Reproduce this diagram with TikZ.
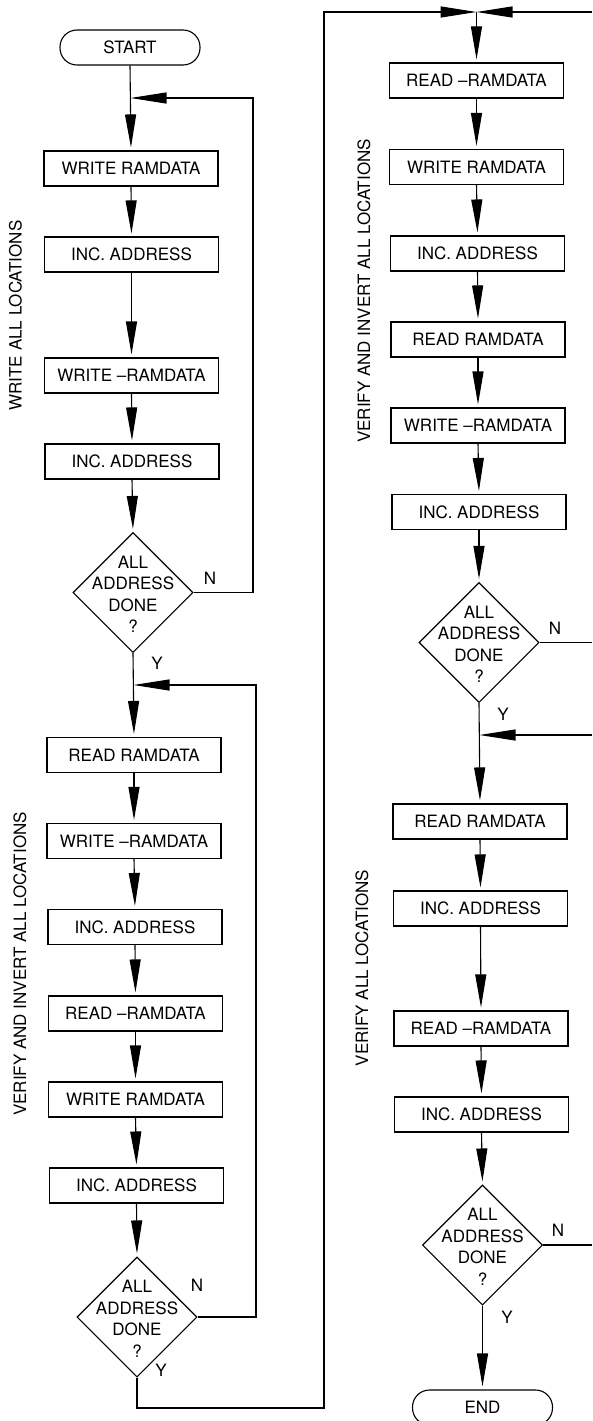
\documentclass[tikz,border=0pt]{standalone}
\usepackage{fontspec}
\setmainfont{TeX Gyre Heros}
\usetikzlibrary{arrows.meta,shapes.geometric}

\begin{document}
\begin{tikzpicture}[
  x=1pt, y=-1pt,
  line width=1.1pt,
  font=\fontsize{17}{21.5}\selectfont,
  proc/.style={draw, rectangle, minimum width=174pt, minimum height=35pt, inner sep=0pt},
  term/.style={draw, rectangle, rounded corners=17pt, minimum width=140pt, minimum height=35pt, inner sep=0pt},
  dec/.style={draw, diamond, minimum width=120pt, minimum height=120pt, inner sep=0pt},
  dtext/.style={align=center, inner sep=0pt, yshift=-2pt},
  flow/.style={-{Triangle[length=33pt,width=11pt]}, shorten >=3pt},
  joinarrow/.style={-{Triangle[length=36pt,width=11pt]}},
  side/.style={rotate=90, inner sep=0pt},
  lab/.style={inner sep=0pt}
]
\useasboundingbox (0,0) rectangle (592,1421);

% ---------- left column: write, then verify and invert ----------
\node[term] (start) at (130,47.5) {START};
\node[proc] (w1)  at (131,168.5)  {WRITE RAMDATA};
\node[proc] (i1)  at (131.5,254.5) {INC. ADDRESS};
\node[proc] (wn0) at (131.5,375.5) {WRITE –RAMDATA};
\node[proc] (i2)  at (132,461.5)  {INC. ADDRESS};
\node[dec]  (d1)  at (133,592.5)  {};
\node[dtext] (d1t) at (d1) {ALL\\ADDRESS\\DONE\\?};

\node[proc] (rr1) at (134,755)    {READ RAMDATA};
\node[proc] (wn1) at (134,841)    {WRITE –RAMDATA};
\node[proc] (i3)  at (135,927)    {INC. ADDRESS};
\node[proc] (rn1) at (135.5,1013.5) {READ –RAMDATA};
\node[proc] (w3)  at (135.5,1099.5) {WRITE RAMDATA};
\node[proc] (i4)  at (136.5,1185.5) {INC. ADDRESS};
\node[dec]  (d2)  at (137,1317)   {};
\node[dtext] (d2t) at (d2) {ALL\\ADDRESS\\DONE\\?};

% ---------- right column: verify and invert, then verify ----------
\node[proc] (rn2) at (476.5,80.5)  {READ –RAMDATA};
\node[proc] (w4)  at (476.5,167)   {WRITE RAMDATA};
\node[proc] (i5)  at (477.5,253.5) {INC. ADDRESS};
\node[proc] (rr2) at (478,339.5)   {READ RAMDATA};
\node[proc] (wn2) at (478,425.5)   {WRITE –RAMDATA};
\node[proc] (i6)  at (479,512)     {INC. ADDRESS};
\node[dec]  (d3)  at (479,642.5)   {};
\node[dtext] (d3t) at (d3) {ALL\\ADDRESS\\DONE\\?};

\node[proc] (rr3) at (480,821.5)   {READ RAMDATA};
\node[proc] (i7)  at (480.5,908.5) {INC. ADDRESS};
\node[proc] (rn3) at (481,1028.5)  {READ –RAMDATA};
\node[proc] (i8)  at (481.5,1114.5) {INC. ADDRESS};
\node[dec]  (d4)  at (482.5,1245)  {};
\node[dtext] (d4t) at (d4) {ALL\\ADDRESS\\DONE\\?};
\node[term] (end) at (482.5,1407.5) {END};

% ---------- section captions ----------
\node[side] (s1) at (15.5,315.5) {WRITE ALL LOCATIONS};
\node[side] (s2) at (20,964)     {VERIFY AND INVERT ALL LOCATIONS};
\node[side] (s3) at (364,291)    {VERIFY AND INVERT ALL LOCATIONS};
\node[side] (s4) at (362,968)    {VERIFY ALL LOCATIONS};

% ---------- branch labels ----------
\node[lab] (n1) at (210,578)  {N};
\node[lab] (y1) at (157,663)  {Y};
\node[lab] (n2) at (197,1285) {N};
\node[lab] (y2) at (161,1370) {Y};
\node[lab] (n3) at (555,628)  {N};
\node[lab] (y3) at (503,714)  {Y};
\node[lab] (n4) at (558,1230) {N};
\node[lab] (y4) at (507,1317) {Y};

% ---------- junctions and routing points ----------
\coordinate (j1) at (130.5,98);
\coordinate (l1) at (253,98);
\coordinate (j2) at (133.5,685);
\coordinate (l2) at (256,685);
\coordinate (c1) at (324,1408);
\coordinate (c2) at (324,12);
\coordinate (j3) at (476.5,12);
\coordinate (e1) at (592,12);
\coordinate (e2) at (592,642.5);
\coordinate (j4) at (479.5,735);
\coordinate (e3) at (592,735);
\coordinate (e4) at (592,1245);

% ---------- main flow ----------
\draw[flow] (start.south) -- (w1.north);
\draw[flow] (w1.south) -- (i1.north);
\draw[flow] (i1.south) -- (wn0.north);
\draw[flow] (wn0.south) -- (i2.north);
\draw[flow] (i2.south) -- (d1.north);
\draw[flow] (d1.south) -- (rr1.north);
\draw[flow] (rr1.south) -- (wn1.north);
\draw[flow] (wn1.south) -- (i3.north);
\draw[flow] (i3.south) -- (rn1.north);
\draw[flow] (rn1.south) -- (w3.north);
\draw[flow] (w3.south) -- (i4.north);
\draw[flow] (i4.south) -- (d2.north);

\draw[flow] (j3) -- (rn2.north);
\draw[flow] (rn2.south) -- (w4.north);
\draw[flow] (w4.south) -- (i5.north);
\draw[flow] (i5.south) -- (rr2.north);
\draw[flow] (rr2.south) -- (wn2.north);
\draw[flow] (wn2.south) -- (i6.north);
\draw[flow] (i6.south) -- (d3.north);
\draw[flow] (d3.south) -- (rr3.north);
\draw[flow] (rr3.south) -- (i7.north);
\draw[flow] (i7.south) -- (rn3.north);
\draw[flow] (rn3.south) -- (i8.north);
\draw[flow] (i8.south) -- (d4.north);
\draw[flow] (d4.south) -- (end.north);

% ---------- loops and off-page lines ----------
\draw[joinarrow] (d1.east) -| (l1) -- (j1);
\draw[joinarrow] (d2.east) -| (l2) -- (j2);
\draw[joinarrow] (d2.south) |- (c1) -- (c2) -- (j3);
\draw[joinarrow] (e1) -- (j3);
\draw (d3.east) -- (e2);
\draw[joinarrow] (e3) -- (j4);
\draw (d4.east) -- (e4);
\end{tikzpicture}
\end{document}
